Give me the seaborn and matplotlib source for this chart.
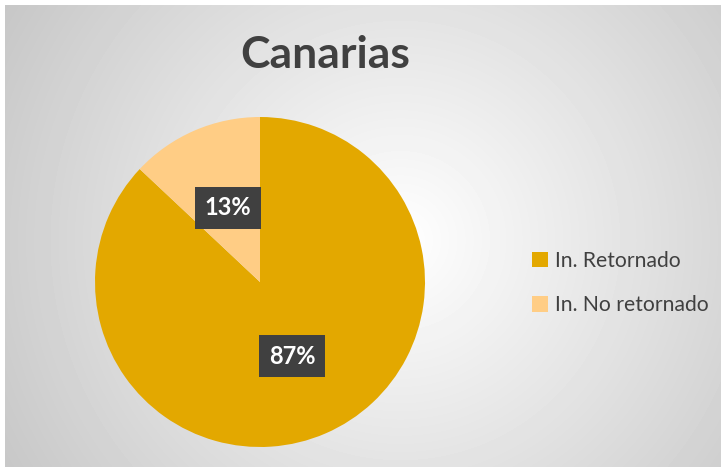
import matplotlib
matplotlib.use('Agg')
import matplotlib.pyplot as plt
from matplotlib.patches import Patch
import seaborn as sns
import numpy as np

categories = ['In. Retornado', 'In. No retornado']
values = [87, 13]
colors = ['#E3A800', '#FFCD85']

sns.set_theme(style='white')
plt.rcParams['font.family'] = ['Lato', 'DejaVu Sans']

fig = plt.figure(figsize=(7.26, 4.72), dpi=100)
fig.patch.set_facecolor('white')

# radial gradient background of the chart area
bg = fig.add_axes([5 / 726, 5 / 472, 716 / 726, 462 / 472])
yy, xx = np.mgrid[0:462, 0:716]
dist = np.sqrt((xx - 395) ** 2 + (yy - 235) ** 2)
shade = np.clip(1 - 0.00048 * dist, 0, 1)
bg.imshow(shade, cmap='gray', vmin=0, vmax=1, aspect='auto', interpolation='bilinear')
bg.set_axis_off()

# pie
cx, cy, r = 260, 282, 165
ax = fig.add_axes([(cx - r) / 726, 1 - (cy + r) / 472, 2 * r / 726, 2 * r / 472])
wedges, texts, autotexts = ax.pie(values, colors=colors, startangle=90, counterclock=False,
                                  autopct='%1.0f%%', pctdistance=0.49,
                                  wedgeprops={'linewidth': 0},
                                  textprops={'color': 'white', 'fontsize': 17, 'fontweight': 'bold'})
for t in autotexts:
    t.set_bbox(dict(boxstyle='square,pad=0.4', facecolor='#404040', edgecolor='none'))
ax.set_xlim(-1, 1)
ax.set_ylim(-1, 1)
ax.set_axis_off()

fig.text(325 / 726, 1 - 55 / 472, 'Canarias', ha='center', va='center',
         fontsize=32, fontweight='bold', color='#404040')

handles = [Patch(facecolor=c, edgecolor='none') for c in colors]
leg = fig.legend(handles, categories, loc='center left', bbox_to_anchor=(513 / 726, 1 - 283 / 472),
                 frameon=False, fontsize=15.2, handlelength=0.75, handleheight=0.75,
                 handletextpad=0.35, labelspacing=1.15)
for t in leg.get_texts():
    t.set_color('#404040')

plt.savefig('out.png', dpi=100)
